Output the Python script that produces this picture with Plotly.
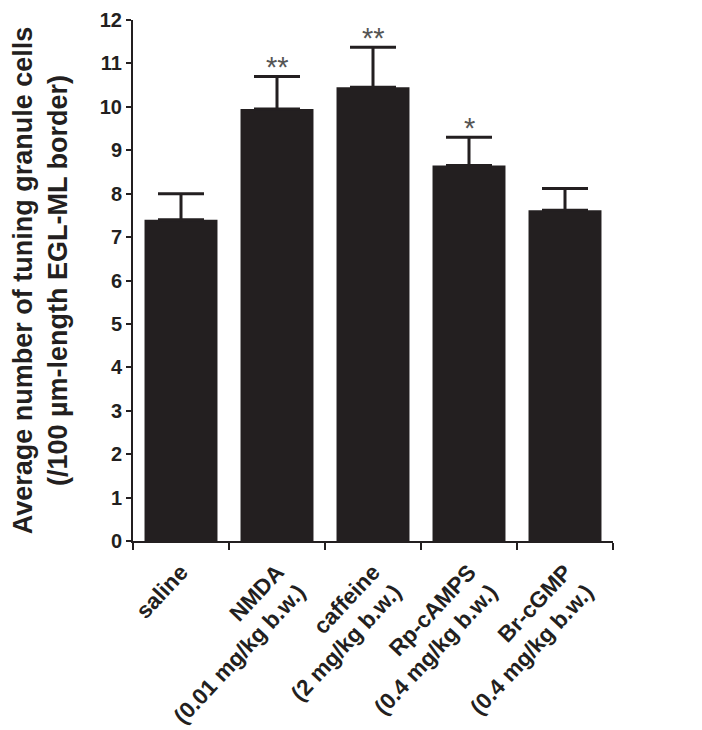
import plotly.graph_objects as go

categories = ["saline", "NMDA<br>(0.01 mg/kg b.w.)", "caffeine<br>(2 mg/kg b.w.)",
              "Rp-cAMPS<br>(0.4 mg/kg b.w.)", "Br-cGMP<br>(0.4 mg/kg b.w.)"]
means = [7.4, 9.95, 10.45, 8.65, 7.62]
sems = [0.6, 0.75, 0.92, 0.65, 0.5]
signif = ["", "**", "**", "*", ""]
y_ticks = list(range(0, 13))

FONT = "Liberation Sans, Arial, sans-serif"
INK = "#231f20"

fig = go.Figure()
fig.add_trace(go.Bar(
    x=categories, y=means, width=0.76,
    marker=dict(color=INK, line=dict(width=0)),
    error_y=dict(type="data", symmetric=False, array=sems,
                 arrayminus=[0] * len(sems), color=INK, thickness=3, width=23),
))

for c, m, s, t in zip(categories, means, sems, signif):
    if t:
        fig.add_annotation(x=c, y=m + s, text=t, showarrow=False,
                           yanchor="bottom", yshift=-9,
                           font=dict(family=FONT, size=29, color="#555"))

fig.update_layout(
    width=702, height=730,
    margin=dict(l=125, r=97, t=12, b=197),
    paper_bgcolor="white", plot_bgcolor="white",
    showlegend=False,
    font=dict(family=FONT, color=INK),
    bargap=0.24,
)
fig.update_yaxes(
    automargin=False,
    range=[0, 12], tickvals=y_ticks, ticktext=[str(v) for v in y_ticks],
    showline=True, linecolor=INK, linewidth=2,
    ticks="outside", ticklen=5, tickwidth=2, tickcolor=INK,
    showgrid=False, zeroline=False,
    tickfont=dict(family=FONT, size=20, color=INK, weight="bold"),
    title=dict(text="Average number of tuning granule cells<br>(/100 µm-length EGL-ML border)",
               font=dict(family=FONT, size=27, color=INK, weight="bold"), standoff=34),
)
fig.update_xaxes(
    automargin=False,
    range=[-0.5, 4.5],
    showline=True, linecolor=INK, linewidth=2,
    ticks="outside", ticklen=7, tickwidth=2, tickcolor=INK, tickson="boundaries",
    ticklabelstandoff=7,
    showgrid=False, tickangle=-47,
    tickfont=dict(family=FONT, size=22.5, color=INK, weight="bold"),
)

fig.write_html("out.html")
